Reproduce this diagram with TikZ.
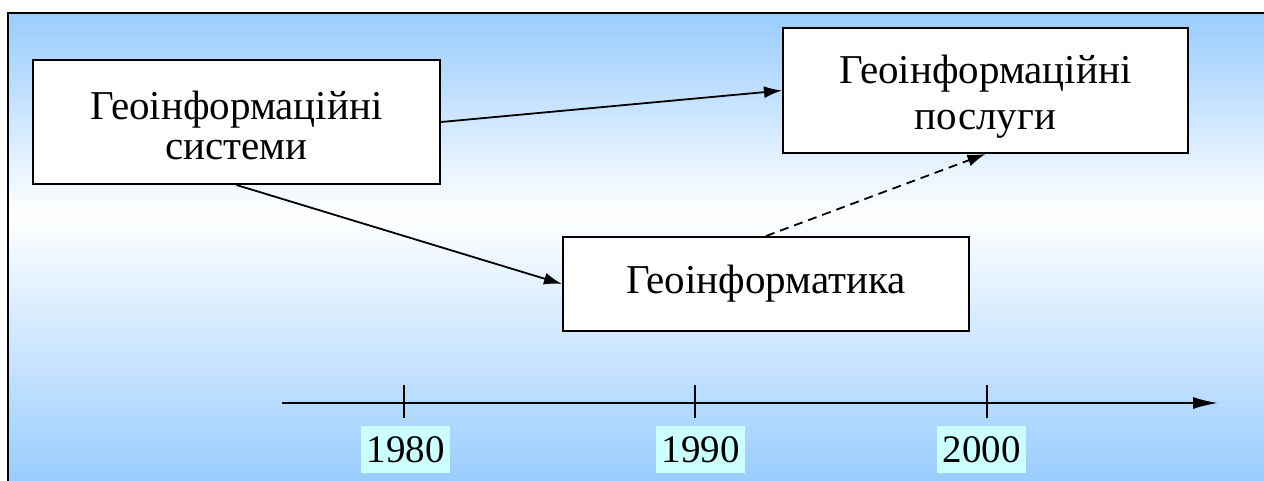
\documentclass[tikz,border=0pt]{standalone}
\usepackage{fontspec}
\setmainfont{Liberation Serif}
\usetikzlibrary{arrows.meta}
\definecolor{bgblue}{RGB}{153,204,255}
\definecolor{yearbg}{RGB}{204,255,255}
\tikzset{
  box/.style={draw=black, line width=2pt, fill=white, align=center, inner sep=0pt},
  boxtext/.style={align=center, inner sep=0pt},
  conn/.style={line width=1.8pt, -{Latex[length=18pt,width=12pt]}},
  yearbox/.style={fill=yearbg, inner sep=0pt, minimum width=89pt, minimum height=47pt, font=\fontsize{39}{40}\selectfont},
  tick/.style={line width=2pt}
}
\begin{document}
\begin{tikzpicture}[x=1pt,y=-1pt]
\useasboundingbox (0,0) rectangle (1264,480);
% background
\fill[white] (0,0) rectangle (1264,480);
\shade[top color=bgblue, bottom color=white] (8,13) rectangle (1266,215);
\shade[top color=white, bottom color=bgblue] (8,214) rectangle (1266,482);
\draw[line width=2pt] (8,483) -- (8,13) -- (1266,13);
% boxes
\node[box, minimum width=407pt, minimum height=124pt] (gis) at (236.5,122) {};
\node[boxtext, font=\fontsize{41}{40}\selectfont] (gistxt) at (236.5,125) {Геоінформаційні\\системи};
\node[box, minimum width=405pt, minimum height=125pt] (serv) at (985.5,90.5) {};
\node[boxtext, font=\fontsize{41}{46}\selectfont] (servtxt) at (985.5,96.5) {Геоінформаційні\\послуги};
\node[box, minimum width=406pt, minimum height=94pt, font=\fontsize{41}{40}\selectfont] (gi) at (766,284) {Геоінформатика};
% connectors
\draw[conn] (gis.east) -- (serv.west);
\draw[conn] (gis.south) -- (gi.west);
\draw[conn, dashed, dash pattern=on 9pt off 6pt] (gi.north) -- (serv.south);
% timeline
\coordinate (t0) at (282,403);
\coordinate (t1) at (1218,403);
\draw[line width=2pt, -{Latex[length=25pt,width=12pt]}] (t0) -- (t1);
\coordinate (k1a) at (404,385); \coordinate (k1b) at (404,418);
\coordinate (k2a) at (695,385); \coordinate (k2b) at (695,418);
\coordinate (k3a) at (987,385); \coordinate (k3b) at (987,418);
\draw[tick] (k1a) -- (k1b);
\draw[tick] (k2a) -- (k2b);
\draw[tick] (k3a) -- (k3b);
\node[yearbox] (y1980) at (405.5,449.5) {1980};
\node[yearbox] (y1990) at (700.5,449.5) {1990};
\node[yearbox] (y2000) at (981.5,449.5) {2000};
\end{tikzpicture}
\end{document}
